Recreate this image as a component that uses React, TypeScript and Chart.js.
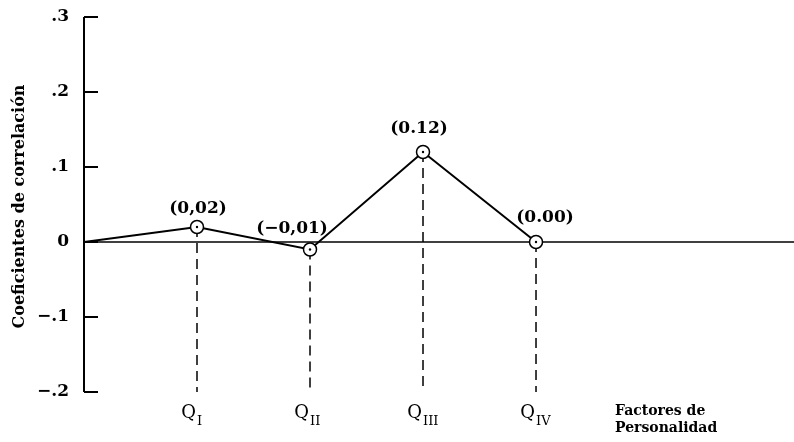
import React, { useEffect, useRef } from "react";
import { Chart, registerables } from "chart.js";

Chart.register(...registerables);

// ---- data ----
const factorSubscripts = ["I", "II", "III", "IV"];
const factorPositions = [1, 2, 3, 4];
const correlations = [0.02, -0.01, 0.12, 0.0];
const valueLabels = ["(0,02)", "(\u22120,01)", "(0.12)", "(0.00)"];
const yTickValues = [0.3, 0.2, 0.1, 0, -0.1, -0.2];
const yTickLabels = [".3", ".2", ".1", "0", "\u2212.1", "\u2212.2"];
const originPoint = { x: 0, y: 0 };
const yMin = -0.2;
const yMax = 0.3;
const xMax = 6.283;
const yTitle = "Coeficientes de correlaci\u00f3n";
const xTitleLines = ["Factores de", "Personalidad"];

// label offsets (px) relative to each point
const labelOffsets = [
  [1, -18],
  [-18, -21],
  [-4, -23],
  [9, -24],
];

const overlayPlugin = {
  id: "overlay",
  afterDraw(chart: any) {
    const { ctx, chartArea, scales } = chart;
    const xs = scales.x;
    const ys = scales.y;
    ctx.save();
    ctx.strokeStyle = "#000";
    ctx.fillStyle = "#000";
    // y axis line
    ctx.lineWidth = 2;
    ctx.beginPath();
    ctx.moveTo(chartArea.left, ys.getPixelForValue(yMax));
    ctx.lineTo(chartArea.left, ys.getPixelForValue(yMin));
    ctx.stroke();
    // inward ticks
    yTickValues.forEach((v) => {
      const py = ys.getPixelForValue(v);
      ctx.beginPath();
      ctx.moveTo(chartArea.left, py);
      ctx.lineTo(chartArea.left + 14, py);
      ctx.stroke();
    });
    // y title
    ctx.save();
    ctx.translate(20, (chartArea.top + chartArea.bottom) / 2 + 2);
    ctx.rotate(-Math.PI / 2);
    ctx.font = "bold 16px 'DejaVu Serif'";
    ctx.textAlign = "center";
    ctx.textBaseline = "middle";
    ctx.fillText(yTitle, 0, 0);
    ctx.restore();
    // value labels
    ctx.font = "bold 17px 'DejaVu Serif'";
    ctx.textAlign = "center";
    ctx.textBaseline = "middle";
    correlations.forEach((v, i) => {
      const px = xs.getPixelForValue(factorPositions[i]);
      const py = ys.getPixelForValue(v);
      ctx.fillText(valueLabels[i], px + labelOffsets[i][0], py + labelOffsets[i][1]);
    });
    // category labels Q with subscripts
    ctx.textBaseline = "alphabetic";
    factorSubscripts.forEach((s, i) => {
      const px = xs.getPixelForValue(factorPositions[i]);
      ctx.font = "18px 'DejaVu Serif'";
      ctx.textAlign = "right";
      ctx.fillText("Q", px - 1, 418);
      ctx.font = "13px 'DejaVu Serif'";
      ctx.textAlign = "left";
      ctx.fillText(s, px, 425);
    });
    // x title
    ctx.font = "bold 14px 'DejaVu Serif'";
    ctx.textAlign = "left";
    ctx.fillText(xTitleLines[0], 615, 415);
    ctx.fillText(xTitleLines[1], 615, 432);
    ctx.restore();
  },
};

export default function App() {
  const canvasRef = useRef<HTMLCanvasElement | null>(null);

  useEffect(() => {
    const canvas = canvasRef.current;
    if (!canvas) return;

    const mainPoints = [originPoint].concat(
      factorPositions.map((x, i) => ({ x, y: correlations[i] }))
    );
    const dropLines = factorPositions.map((x, i) => ({
      type: "line" as const,
      data: [
        { x, y: correlations[i] },
        { x, y: yMin },
      ],
      borderColor: "#000",
      borderWidth: 1.5,
      borderDash: [10, 6],
      pointRadius: 0,
      order: 3,
    }));

    const chart = new Chart(canvas, {
      type: "line",
      data: {
        datasets: [
          {
            data: mainPoints,
            borderColor: "#000",
            borderWidth: 2,
            pointRadius: mainPoints.map((_, i) => (i === 0 ? 0 : 6.5)),
            pointBackgroundColor: "#fff",
            pointBorderColor: "#000",
            pointBorderWidth: 1.5,
            order: 1,
          },
          {
            data: factorPositions.map((x, i) => ({ x, y: correlations[i] })),
            showLine: false,
            pointRadius: 1.2,
            pointBackgroundColor: "#000",
            pointBorderWidth: 0,
            order: 0,
          },
          {
            data: [
              { x: 0, y: 0 },
              { x: xMax, y: 0 },
            ],
            borderColor: "#000",
            borderWidth: 1.5,
            pointRadius: 0,
            order: 2,
          },
          ...dropLines,
        ] as any,
      },
      options: {
        animation: false,
        responsive: false,
        events: [],
        layout: { autoPadding: false, padding: { top: 17, bottom: 50, left: 0, right: 0 } },
        plugins: {
          legend: { display: false },
          tooltip: { enabled: false },
        },
        scales: {
          x: {
            type: "linear",
            min: 0,
            max: xMax,
            display: false,
          },
          y: {
            type: "linear",
            min: yMin,
            max: yMax,
            grid: { display: false, drawTicks: false },
            border: { display: false },
            afterBuildTicks: (scale: any) => {
              scale.ticks = yTickValues.map((v) => ({ value: v }));
            },
            afterFit: (scale: any) => {
              scale.width = 84;
              scale.paddingTop = 0;
              scale.paddingBottom = 0;
            },
            ticks: {
              padding: 15,
              color: "#000",
              font: { family: "'DejaVu Serif'", weight: "bold", size: 17 },
              callback: (value: any) => {
                const idx = yTickValues.findIndex((t) => Math.abs(t - Number(value)) < 1e-6);
                return idx >= 0 ? yTickLabels[idx] : "";
              },
            },
          },
        },
      },
      plugins: [overlayPlugin],
    });

    return () => chart.destroy();
  }, []);

  return (
    <div style={{ position: "fixed", left: 0, top: 0, width: 794, height: 442, background: "#fff" }}>
      <canvas ref={canvasRef} width={794} height={442} style={{ width: 794, height: 442 }} />
    </div>
  );
}
